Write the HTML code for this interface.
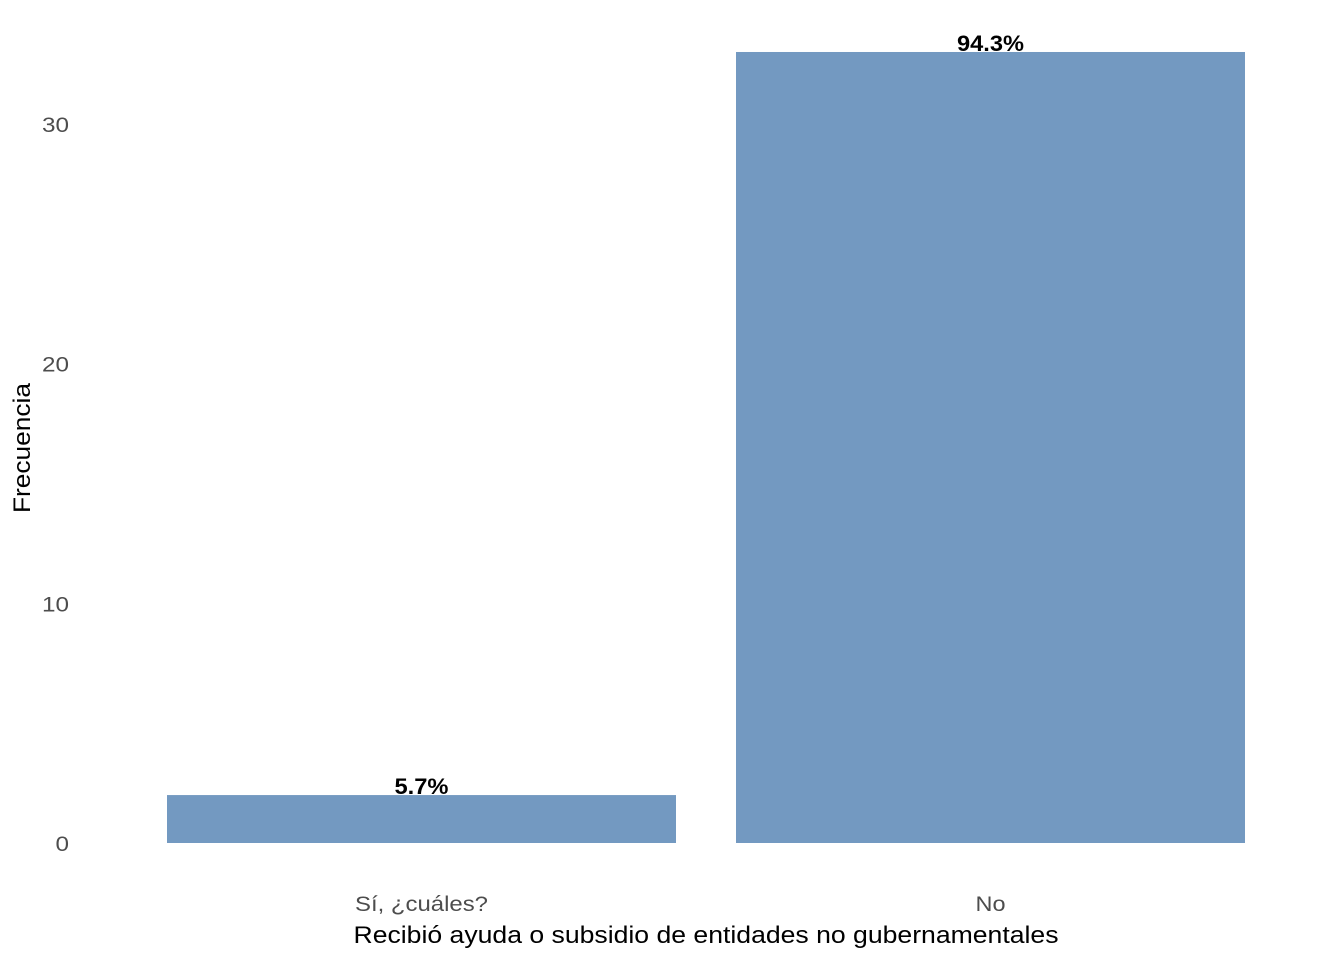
<!DOCTYPE html>
<html><head><meta charset="utf-8"><style>
body{margin:0;background:#fff;}
svg{display:block;font-family:"Liberation Sans",sans-serif;}
</style></head><body>
<svg id="chart" width="1344" height="960">
<g id="ticks"></g><g id="bars"></g>
<text x="706" y="943" text-anchor="middle" font-size="24" textLength="705" lengthAdjust="spacingAndGlyphs" fill="#000">Recibió ayuda o subsidio de entidades no gubernamentales</text>
<text transform="translate(30,448) rotate(-90)" text-anchor="middle" font-size="24" textLength="130" lengthAdjust="spacingAndGlyphs" fill="#000">Frecuencia</text>
</svg>
<script>
const categories = ["Sí, ¿cuáles?", "No"];
const values = [2, 33];
const pctLabels = ["5.7%", "94.3%"];
const yTicks = [0, 10, 20, 30];
const y0 = 843, pxPerUnit = 23.97;
const y = v => y0 - v * pxPerUnit;
const barW = 509;
const ns = "http://www.w3.org/2000/svg";
const tg = document.getElementById("ticks"), bg = document.getElementById("bars");
yTicks.forEach(t => {
  const e = document.createElementNS(ns, "text");
  
  
  e.setAttribute("x", 69); e.setAttribute("y", y(t) + 8);
  e.setAttribute("text-anchor", "end"); e.setAttribute("font-size", "21"); e.setAttribute("fill", "#4d4d4d");
  e.setAttribute("textLength", String(t).length * 13.5); e.setAttribute("lengthAdjust", "spacingAndGlyphs");
  e.textContent = t; tg.appendChild(e);
});
const xLabelW = [133, 30], pctW = [54, 67];
categories.forEach((c, i) => {
  const cx = 421.5 + i * 569;
  const r = document.createElementNS(ns, "rect");
  
  
  r.setAttribute("x", cx - barW / 2); r.setAttribute("width", barW);
  r.setAttribute("y", y(values[i])); r.setAttribute("height", y0 - y(values[i]));
  r.setAttribute("fill", "#7399c1"); bg.appendChild(r);
  const l = document.createElementNS(ns, "text");
  
  
  l.setAttribute("x", cx); l.setAttribute("y", y(values[i]) - 1);
  l.setAttribute("text-anchor", "middle"); l.setAttribute("font-size", "22"); l.setAttribute("font-weight", "bold");
  l.setAttribute("textLength", pctW[i]); l.setAttribute("lengthAdjust", "spacingAndGlyphs");
  l.textContent = pctLabels[i]; bg.appendChild(l);
  const xl = document.createElementNS(ns, "text");
  
  
  xl.setAttribute("x", cx); xl.setAttribute("y", 911);
  xl.setAttribute("text-anchor", "middle"); xl.setAttribute("font-size", "21"); xl.setAttribute("fill", "#4d4d4d");
  xl.setAttribute("textLength", xLabelW[i]); xl.setAttribute("lengthAdjust", "spacingAndGlyphs");
  xl.textContent = c; bg.appendChild(xl);
});
</script>
</body></html>
